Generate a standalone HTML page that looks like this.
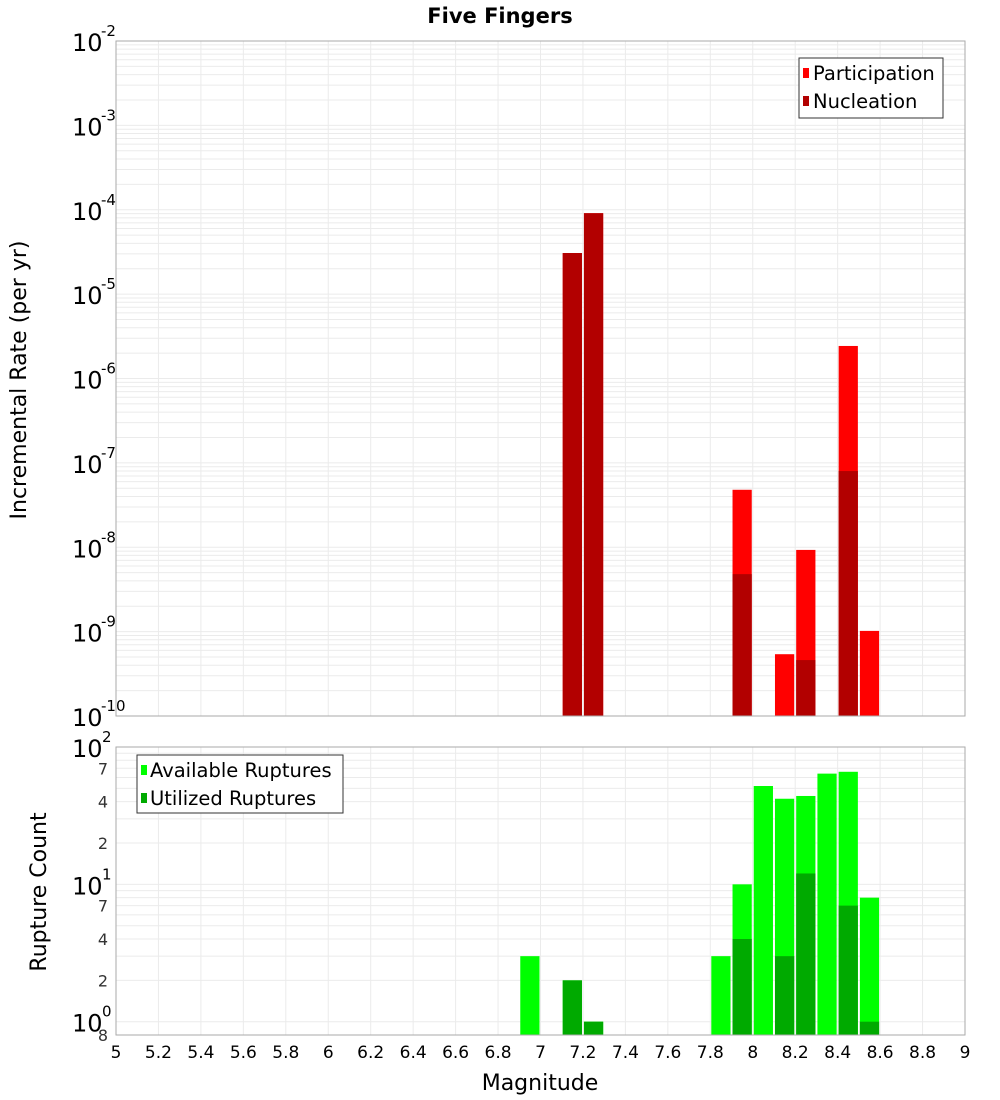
<!DOCTYPE html>
<html><head><meta charset="utf-8">
<style>
body{margin:0;background:#fff;font-family:"Liberation Sans","DejaVu Sans",sans-serif;}
svg text{font-family:"DejaVu Sans","Liberation Sans",sans-serif;}
</style></head>
<body>
<svg id="chart" width="1000" height="1100" xmlns="http://www.w3.org/2000/svg" style="position:absolute;left:0;top:0">
<text x="500" y="23" text-anchor="middle" font-size="21" font-weight="bold">Five Fingers</text>
<g id="topg"></g>
<g id="botg"></g>
</svg>
<script>
const bins = [6.95, 7.15, 7.25, 7.85, 7.95, 8.05, 8.15, 8.25, 8.35, 8.45, 8.55];
const participation = [0, 3.07e-5, 9.1e-5, 0, 4.8e-8, 0, 5.4e-10, 9.3e-9, 0, 2.43e-6, 1.02e-9];
const nucleation = [0, 3.07e-5, 9.1e-5, 0, 4.8e-9, 0, 0, 4.6e-10, 0, 8.0e-8, 0];
const available = [3, 2, 1, 3, 10, 52, 42, 44, 64, 66, 8];
const utilized = [0, 2, 1, 0, 4, 0, 3, 12, 0, 7, 1];
const xTicks = [5,5.2,5.4,5.6,5.8,6,6.2,6.4,6.6,6.8,7,7.2,7.4,7.6,7.8,8,8.2,8.4,8.6,8.8,9];

const NS="http://www.w3.org/2000/svg";
const X0=116,X1=965,XMIN=5,XMAX=9;
const xs=v=>X0+(v-XMIN)/(XMAX-XMIN)*(X1-X0);
const T0=41,T1=716; const ty=v=>T0+(-2-Math.log10(v))/8*(T1-T0);
const B0=747,B1=1035; const BMIN=Math.log10(0.8);
const by=v=>B0+(2-Math.log10(v))/(2-BMIN)*(B1-B0);
function el(p,tag,a){const e=document.createElementNS(NS,tag);for(const k in a)e.setAttribute(k,a[k]);p.appendChild(e);return e;}
const gTop=document.getElementById('topg'), gBot=document.getElementById('botg');

for(let d=-10;d<-2;d++)for(let m=1;m<10;m++){const y=ty(m*Math.pow(10,d));
 const l=el(gTop,'line',{x1:X0,x2:X1,y1:y,y2:y,stroke:'#ebebeb','stroke-width':1});
 
 }
xTicks.forEach(t=>{const x=xs(t);
 const l=el(gTop,'line',{x1:x,x2:x,y1:T0,y2:T1,stroke:'#ebebeb'});
 
 
 const l2=el(gBot,'line',{x1:x,x2:x,y1:B0,y2:B1,stroke:'#ebebeb'});
 
 });
[1,2,3,4,5,6,7,8,9,10,20,30,40,50,60,70,80,90].forEach(v=>{const y=by(v);
 const l=el(gBot,'line',{x1:X0,x2:X1,y1:y,y2:y,stroke:'#ebebeb'});
 
 });

const bw=0.1*(X1-X0)/(XMAX-XMIN);
function bar(g,c,v,color,yf,base,name){ if(!v)return;
 const x=xs(c-0.05)+1, y=yf(v);
 const r=el(g,'rect',{x:x,y:y,width:bw-2,height:base-y,fill:color});
 
 }
bins.forEach((c,i)=>{
 bar(gTop,c,participation[i],'#ff0000',ty,T1,'participation-bar');
 bar(gTop,c,nucleation[i],'#b20000',ty,T1,'nucleation-bar');
 bar(gBot,c,available[i],'#00ff00',by,B1,'available-bar');
 bar(gBot,c,utilized[i],'#00aa00',by,B1,'utilized-bar');
});
let f=el(gTop,'rect',{x:X0,y:T0,width:X1-X0,height:T1-T0,fill:'none',stroke:'#aaa'});


f=el(gBot,'rect',{x:X0,y:B0,width:X1-X0,height:B1-B0,fill:'none',stroke:'#aaa'});



for(let d=-10;d<=-2;d++){const y=ty(Math.pow(10,d));
 const t=el(gTop,'text',{x:72,y:y+10,'font-size':24});
 
 
 t.textContent='10';
 const s=el(gTop,'text',{x:101,y:y-5,'font-size':15});
 
 
 s.textContent=String(d);}
[[100,'2'],[10,'1'],[1,'0']].forEach(([v,e])=>{const y=by(v);
 const t=el(gBot,'text',{x:72,y:y+10,'font-size':24});
 
 
 t.textContent='10';
 const s=el(gBot,'text',{x:102,y:y-5,'font-size':15});
 
 
 s.textContent=e;});
[[70,'7'],[40,'4'],[20,'2'],[7,'7'],[4,'4'],[2,'2'],[0.8,'8']].forEach(([v,s])=>{
 const t=el(gBot,'text',{x:108,y:by(v)+6,'font-size':16,'text-anchor':'end',fill:'#333'});
 
 
 t.textContent=s;});
xTicks.forEach(t=>{const e=el(gBot,'text',{x:xs(t),y:1058,'font-size':17,'text-anchor':'middle'});
 
 
 e.textContent=String(t);});
</script>
<svg style="position:absolute;left:0;top:0" width="1000" height="1100" xmlns="http://www.w3.org/2000/svg">
<text x="540" y="1090" text-anchor="middle" font-size="22">Magnitude</text>
<text transform="translate(26,380) rotate(-90)" text-anchor="middle" font-size="22">Incremental Rate (per yr)</text>
<text transform="translate(46,892) rotate(-90)" text-anchor="middle" font-size="22">Rupture Count</text>
<g>
<rect x="799" y="58" width="144" height="60" fill="#fff" stroke="#333"/>
<rect x="803" y="68" width="6" height="10" fill="#ff0000"/>
<text x="813" y="80" font-size="19.5">Participation</text>
<rect x="803" y="96" width="6" height="10" fill="#b20000"/>
<text x="813" y="108" font-size="19.5">Nucleation</text>
</g>
<g>
<rect x="137" y="755" width="206" height="58" fill="#fff" stroke="#333"/>
<rect x="141" y="765" width="6" height="10" fill="#00ff00"/>
<text x="150" y="777" font-size="19.5">Available Ruptures</text>
<rect x="141" y="793" width="6" height="10" fill="#00aa00"/>
<text x="150" y="805" font-size="19.5">Utilized Ruptures</text>
</g>
</svg>
</body></html>
